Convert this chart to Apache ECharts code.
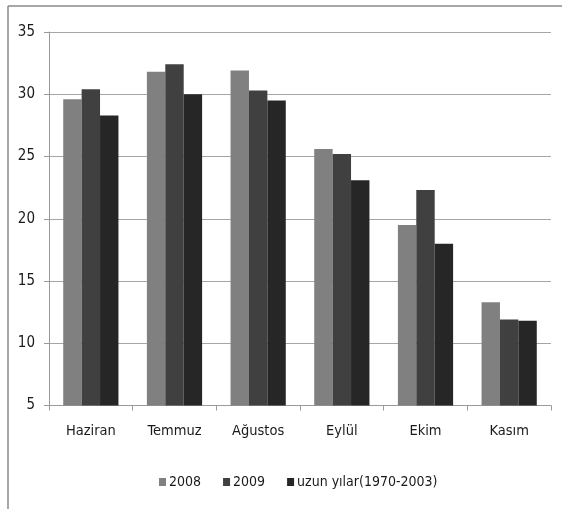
<!DOCTYPE html>
<html>
<head>
<meta charset="utf-8">
<script src="https://cdn.jsdelivr.net/npm/echarts@6/dist/echarts.min.js"></script>
<style>
  html, body { margin: 0; padding: 0; background: #fff; }
  #chart { width: 562px; height: 509px; }
</style>
</head>
<body>
<div id="chart"></div>
<script>
// Monthly mean temperatures (°C)
const months = ['Haziran', 'Temmuz', 'Ağustos', 'Eylül', 'Ekim', 'Kasım'];
const seriesNames = ['2008', '2009', 'uzun yılar(1970-2003)'];
const values2008 = [29.6, 31.8, 31.9, 25.6, 19.5, 13.3];
const values2009 = [30.4, 32.4, 30.3, 25.2, 22.3, 11.9];
const valuesLongTerm = [28.3, 30.0, 29.5, 23.1, 18.0, 11.8];
const yTicks = [5, 10, 15, 20, 25, 30, 35];

const barColors = ['#808080', '#404040', '#262626'];
const fontFamily = '"Liberation Sans Narrow", "DejaVu Sans Condensed", "Noto Sans", sans-serif';

const chart = echarts.init(document.getElementById('chart'), null, { renderer: 'canvas' });

const seriesData = [values2008, values2009, valuesLongTerm];

chart.setOption({
  backgroundColor: '#ffffff',
  animation: false,
  textStyle: { fontFamily: fontFamily },
  grid: { left: 49, right: 11, top: 32, bottom: 103.5, containLabel: false },
  legend: {
    left: 154,
    top: 470,
    itemWidth: 7,
    itemHeight: 8,
    itemGap: 22,
    icon: 'rect',
    textStyle: { fontFamily: fontFamily, fontSize: 14, color: '#1a1a1a', padding: [0, 0, 0, -2] },
    data: seriesNames
  },
  xAxis: {
    type: 'category',
    data: months,
    axisLine: { lineStyle: { color: '#9a9a9a', width: 1 } },
    axisTick: { show: true, length: 5, alignWithLabel: false, lineStyle: { color: '#9a9a9a' } },
    axisLabel: { fontSize: 14.5, color: '#1a1a1a', margin: 18, fontFamily: fontFamily },
    splitLine: { show: false }
  },
  yAxis: {
    type: 'value',
    min: yTicks[0],
    max: yTicks[yTicks.length - 1],
    interval: 5,
    axisLine: { show: true, lineStyle: { color: '#9a9a9a', width: 1 } },
    axisTick: { show: true, length: 5, lineStyle: { color: '#9a9a9a' } },
    axisLabel: { fontSize: 15, color: '#1a1a1a', margin: 14, fontFamily: fontFamily },
    splitLine: { show: true, lineStyle: { color: '#a6a6a6', width: 1 } }
  },
  series: seriesNames.map((name, i) => ({
    name: name,
    type: 'bar',
    data: seriesData[i],
    barGap: '0%',
    barCategoryGap: '34%',
    itemStyle: { color: barColors[i] }
  })),
  graphic: [
    // outer frame: top and left edges
    { type: 'line', shape: { x1: 8, y1: 6, x2: 562, y2: 6 }, style: { stroke: '#8a8a8a', lineWidth: 1.5 } },
    { type: 'line', shape: { x1: 8, y1: 6, x2: 8, y2: 509 }, style: { stroke: '#8a8a8a', lineWidth: 1.5 } }
  ]
});
</script>
</body>
</html>
